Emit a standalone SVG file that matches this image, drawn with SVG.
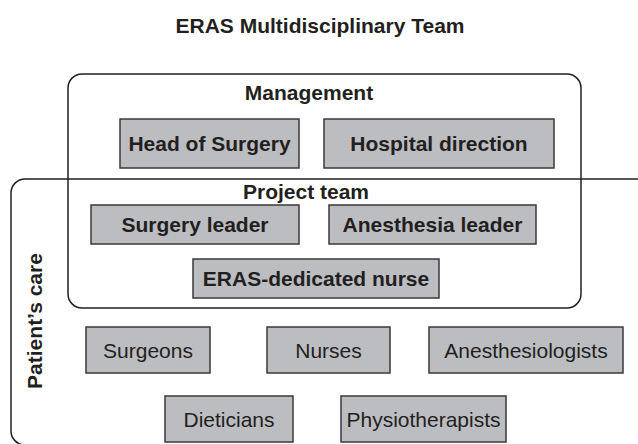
<svg xmlns="http://www.w3.org/2000/svg" width="638" height="444" viewBox="0 0 638 444">
  <style>
    text { font-family: "Liberation Sans", Arial, sans-serif; font-size: 21px; fill: #231f20; text-anchor: middle; }
    .b { font-weight: bold; }
    .frame { fill: none; stroke: #231f20; stroke-width: 1.5; }
    .box rect { fill: #bcbdc0; stroke: #3a3a3a; stroke-width: 1.5; }
  </style>

  <rect width="638" height="444" fill="#ffffff"/>

  <text class="b" x="320" y="33">ERAS Multidisciplinary Team</text>

  <!-- group frames -->
  <g id="frames">
    <path id="patients-care-frame" class="frame" d="M638,179 H25 A14,14 0 0 0 11,193 V431 A14,14 0 0 0 25,445 H638"/>
    <rect id="management-frame" class="frame" x="68" y="74" width="513" height="234" rx="14" ry="14"/>
    <text class="b" x="309" y="100">Management</text>
    <text class="b" x="306" y="199">Project team</text>
    <text class="b" transform="translate(42,321) rotate(-90)" x="0" y="0">Patient’s care</text>
  </g>

  <!-- management -->
  <g id="head-of-surgery" class="box">
    <rect x="120" y="119" width="179" height="49"/>
    <text class="b" x="209.5" y="151">Head of Surgery</text>
  </g>
  <g id="hospital-direction" class="box">
    <rect x="324" y="119" width="230" height="49"/>
    <text class="b" x="439" y="151">Hospital direction</text>
  </g>

  <!-- project team -->
  <g id="surgery-leader" class="box">
    <rect x="91" y="205" width="208" height="39"/>
    <text class="b" x="195" y="232">Surgery leader</text>
  </g>
  <g id="anesthesia-leader" class="box">
    <rect x="329" y="205" width="207" height="39"/>
    <text class="b" x="432.5" y="232">Anesthesia leader</text>
  </g>
  <g id="eras-nurse" class="box">
    <rect x="193" y="259" width="246" height="39"/>
    <text class="b" x="316" y="286">ERAS-dedicated nurse</text>
  </g>

  <!-- patient's care -->
  <g id="surgeons" class="box">
    <rect x="86" y="327" width="124" height="46"/>
    <text x="148" y="358">Surgeons</text>
  </g>
  <g id="nurses" class="box">
    <rect x="267" y="327" width="123" height="46"/>
    <text x="328.5" y="358">Nurses</text>
  </g>
  <g id="anesthesiologists" class="box">
    <rect x="429" y="327" width="194" height="46"/>
    <text x="526" y="358">Anesthesiologists</text>
  </g>
  <g id="dieticians" class="box">
    <rect x="165" y="396" width="128" height="46"/>
    <text x="229" y="427">Dieticians</text>
  </g>
  <g id="physiotherapists" class="box">
    <rect x="341" y="396" width="165" height="46"/>
    <text x="423.5" y="427">Physiotherapists</text>
  </g>

  <g id="connectors"/>
</svg>
